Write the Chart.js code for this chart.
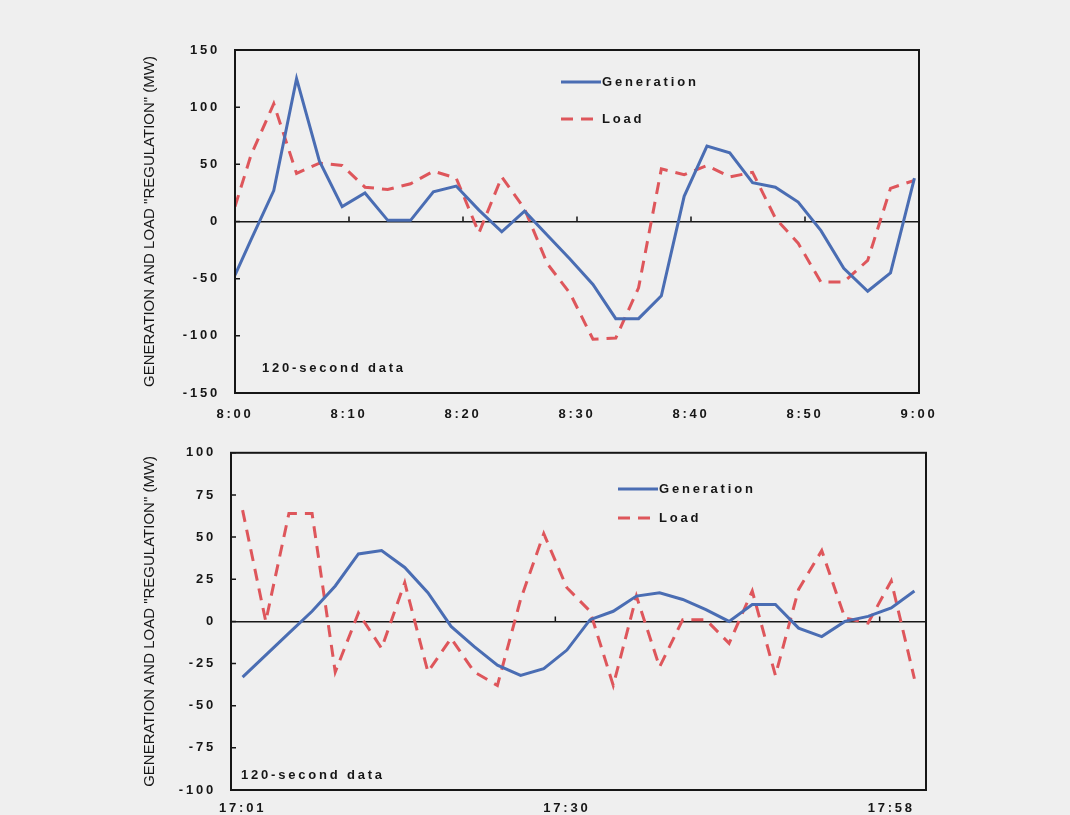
<!DOCTYPE html>
<html>
<head>
<meta charset="utf-8">
<title>Generation and load regulation</title>
<script src="https://cdn.jsdelivr.net/npm/chart.js@4/dist/chart.umd.min.js"></script>
<style>
  html, body { margin: 0; padding: 0; background: #efefef; }
  body { width: 1070px; height: 815px; position: relative; overflow: hidden; }
  .box { position: absolute; left: 0; width: 1070px; }
  #topBox { top: 0; height: 430px; }
  #bottomBox { top: 430px; height: 385px; }
</style>
</head>
<body>
<div class="box" id="topBox"><canvas id="topChart"></canvas></div>
<div class="box" id="bottomBox"><canvas id="bottomChart"></canvas></div>
<script>
// 8:00 - 9:00, 120-second samples (minutes after 8:00)
const topMinutes = [0, 1.4, 3.4, 5.4, 7.4, 9.4, 11.4, 13.4, 15.4, 17.4, 19.4, 21.4, 23.4, 25.4, 27.4,
  29.4, 31.4, 33.4, 35.4, 37.4, 39.4, 41.4, 43.4, 45.4, 47.4, 49.4, 51.4, 53.4, 55.5, 57.5, 59.6];
const topGeneration = [-47, -16, 27, 125, 53, 13, 25, 1, 1, 26, 31, 10, -9, 9, -12, -33, -55, -85,
  -85, -65, 22, 66, 60, 34, 30, 17, -8, -41, -61, -45, 38];
const topLoad = [13, 58, 103, 42, 51, 49, 30, 28, 33, 44, 38, -10, 39, 11, -37, -63, -103, -102,
  -58, 46, 41, 49, 39, 43, 3, -19, -53, -53, -34, 29, 36];
const topTickLabels = ["8:00", "8:10", "8:20", "8:30", "8:40", "8:50", "9:00"];

// 17:01 - 17:59, 120-second samples
const bottomLabels = ["17:01", "", "", "", "", "", "", "", "", "", "", "", "", "", "17:30",
  "", "", "", "", "", "", "", "", "", "", "", "", "", "17:58", ""];
const bottomGeneration = [-33, -20, -7, 6, 21, 40, 42, 32, 17, -3, -15, -26, -32, -28, -17,
  1, 6, 15, 17, 13, 7, 0, 10, 10, -4, -9, 0, 3, 8, 18];
const bottomLoad = [66, 0, 64, 64, -30, 5, -16, 23, -30, -10, -30, -38, 13, 52, 20,
  6, -38, 15, -27, 1, 1, -13, 18, -32, 19, 42, 2, -1, 24, -34];

const yTitle = "GENERATION AND LOAD \"REGULATION\" (MW)";
const noteText = "120-second data";

const INK = "#161616";
const BLUE = "#4a6db3";
const RED = "#de565b";
const FONT = "'Liberation Sans', Arial, Helvetica, sans-serif";
const SPACING = "2.8px";

// frame, inner ticks, axis title, legend and note, drawn on the canvas
const decorations = {
  id: "decorations",
  beforeDraw(chart) {
    chart.ctx.letterSpacing = SPACING;
  },
  afterDatasetsDraw(chart, args, opts) {
    const { ctx, chartArea, scales } = chart;
    const { left, top, right, bottom } = chartArea;
    ctx.save();
    ctx.setLineDash([]);
    ctx.strokeStyle = INK;
    ctx.lineWidth = 2;
    ctx.strokeRect(left, top, right - left, bottom - top);

    ctx.lineWidth = 1.5;
    ctx.beginPath();
    scales.y.ticks.forEach((tick) => {
      const y = scales.y.getPixelForValue(tick.value);
      ctx.moveTo(left, y);
      ctx.lineTo(left + 5, y);
    });
    const zeroY = scales.y.getPixelForValue(0);
    opts.zeroTicks.forEach((value) => {
      const x = scales.x.getPixelForValue(value);
      ctx.moveTo(x, zeroY);
      ctx.lineTo(x, zeroY - 5);
    });
    ctx.stroke();
    ctx.restore();
  },
  afterDraw(chart, args, opts) {
    const { ctx, chartArea } = chart;

    ctx.save();
    ctx.letterSpacing = "0px";
    ctx.font = "15px " + FONT;
    ctx.fillStyle = INK;
    ctx.textAlign = "center";
    ctx.textBaseline = "middle";
    ctx.translate(opts.titleX, (chartArea.top + chartArea.bottom) / 2);
    ctx.rotate(-Math.PI / 2);
    ctx.fillText(yTitle, 0, 0);
    ctx.restore();

    ctx.save();
    ctx.letterSpacing = SPACING;
    ctx.font = "bold 13px " + FONT;
    ctx.fillStyle = INK;
    ctx.textBaseline = "middle";
    ctx.textAlign = "left";
    chart.data.datasets.forEach((dataset, i) => {
      const y = opts.legendY[i];
      ctx.save();
      ctx.strokeStyle = dataset.borderColor;
      ctx.lineWidth = dataset.borderWidth;
      ctx.setLineDash(dataset.borderDash || []);
      ctx.beginPath();
      ctx.moveTo(opts.legendX, y);
      ctx.lineTo(opts.legendX + 40, y);
      ctx.stroke();
      ctx.restore();
      ctx.fillText(dataset.label, opts.legendX + 41, y);
    });
    ctx.fillText(noteText, opts.note.x, opts.note.y);
    ctx.restore();
  }
};

const lineDataset = (label, data, color, dashed) => ({
  label,
  data,
  borderColor: color,
  backgroundColor: color,
  borderWidth: 3,
  borderDash: dashed ? [12, 8] : [],
  pointRadius: 0,
  tension: 0,
  fill: false
});

const tickFont = { family: FONT, size: 13, weight: "bold" };

const yScale = (min, max, step, width) => ({
  min,
  max,
  afterFit: (scale) => { scale.width = width; },
  ticks: {
    stepSize: step,
    padding: 15,
    color: INK,
    font: tickFont
  },
  grid: {
    drawTicks: false,
    lineWidth: 1.5,
    color: (ctx) => (ctx.tick && ctx.tick.value === 0 ? INK : "rgba(0,0,0,0)")
  },
  border: { display: false }
});

const sharedOptions = {
  responsive: true,
  maintainAspectRatio: false,
  animation: false,
  events: []
};

new Chart(document.getElementById("topChart"), {
  type: "line",
  data: {
    datasets: [
      lineDataset("Generation", topMinutes.map((m, i) => ({ x: m, y: topGeneration[i] })), BLUE, false),
      lineDataset("Load", topMinutes.map((m, i) => ({ x: m, y: topLoad[i] })), RED, true)
    ]
  },
  options: {
    ...sharedOptions,
    layout: { padding: { left: 0, right: 151, top: 50, bottom: 0 } },
    scales: {
      x: {
        type: "linear",
        min: 0,
        max: 60,
        afterFit: (scale) => { scale.height = 37; },
        ticks: {
          stepSize: 10,
          padding: 14,
          maxRotation: 0,
          color: INK,
          font: tickFont,
          callback: (value) => topTickLabels[value / 10]
        },
        grid: { display: false, drawTicks: false },
        border: { display: false }
      },
      y: yScale(-150, 150, 50, 235)
    },
    plugins: {
      legend: { display: false },
      tooltip: { enabled: false },
      decorations: {
        zeroTicks: [10, 20, 30, 40, 50],
        titleX: 150,
        legendX: 561,
        legendY: [82, 119],
        note: { x: 262, y: 368 }
      }
    }
  },
  plugins: [decorations]
});

new Chart(document.getElementById("bottomChart"), {
  type: "line",
  data: {
    labels: bottomLabels,
    datasets: [
      lineDataset("Generation", bottomGeneration, BLUE, false),
      lineDataset("Load", bottomLoad, RED, true)
    ]
  },
  options: {
    ...sharedOptions,
    layout: { padding: { left: 0, right: 144, top: 15, bottom: 0 } },
    scales: {
      x: {
        type: "category",
        offset: true,
        afterFit: (scale) => { scale.height = 25; },
        ticks: {
          autoSkip: false,
          padding: 11,
          maxRotation: 0,
          color: INK,
          font: tickFont
        },
        grid: { display: false, drawTicks: false },
        border: { display: false }
      },
      y: yScale(-100, 100, 25, 231)
    },
    plugins: {
      legend: { display: false },
      tooltip: { enabled: false },
      decorations: {
        zeroTicks: [13.5, 27.5],
        titleX: 150,
        legendX: 618,
        legendY: [59, 88],
        note: { x: 241, y: 345 }
      }
    }
  },
  plugins: [decorations]
});
</script>
</body>
</html>
